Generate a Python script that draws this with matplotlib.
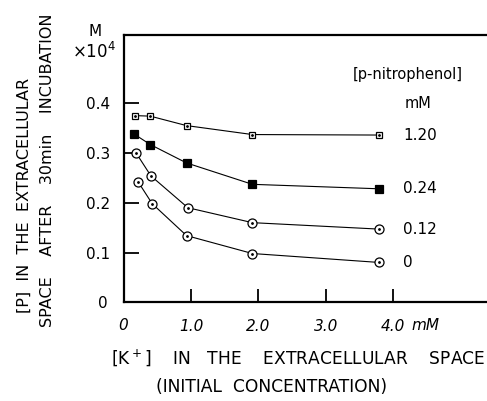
import numpy as np
import matplotlib
matplotlib.use('Agg')
import matplotlib.pyplot as plt

#data
x120 = [0.17, 0.39, 0.93, 1.91, 3.80]
p120 = [0.375, 0.374, 0.355, 0.337, 0.336]
x024 = [0.15, 0.39, 0.93, 1.91, 3.80]
p024 = [0.338, 0.317, 0.280, 0.237, 0.228]
x012 = [0.18, 0.40, 0.95, 1.91, 3.80]
p012 = [0.300, 0.254, 0.190, 0.160, 0.147]
x0 = [0.21, 0.42, 0.93, 1.91, 3.80]
p0 = [0.242, 0.198, 0.134, 0.098, 0.080]
conc = ['1.20', '0.24', '0.12', '0']
xticks = [1, 2, 3, 4]
xticklab = ['1.0', '2.0', '3.0', '4.0']
yticks = [0.1, 0.2, 0.3, 0.4]

W, H = 487, 401
plt.rcParams['font.family'] = 'DejaVu Sans'
fig = plt.figure(figsize=(W/100, H/100), dpi=100)

def fx(px):
    return px/W
def fy(py):
    return 1 - py/H

ax = fig.add_axes([fx(124), fy(302.3), fx(487) - fx(124), fy(35) - fy(302.3)])
ax.set_xlim(0, 5.40)
ax.set_ylim(0, 0.537)
ax.spines['right'].set_visible(False)
for s in ['top', 'left', 'bottom']:
    ax.spines[s].set_linewidth(1.6)

ax.set_xticks(xticks)
ax.set_xticklabels(xticklab, fontstyle='italic', fontsize=11)
ax.set_yticks(yticks)
ax.set_yticklabels(['0.1', '0.2', '0.3', '0.4'], fontsize=11)
ax.tick_params(axis='x', direction='in', length=9.5, width=1.3, pad=12)
ax.tick_params(axis='y', direction='in', length=11, width=1.3, pad=10)

# the curves
series = [(x120, p120, 's', 'white', 5),
          (x024, p024, 's', 'black', 5.5),
          (x012, p012, 'o', 'white', 6.5),
          (x0, p0, 'o', 'white', 6.5)]
for xs, ys, m, fc, ms in series:
    ax.plot(xs, ys, color='black', lw=0.8, marker=m, mfc=fc, mec='black',
            ms=ms, mew=0.9, clip_on=False)
    if fc == 'white':
        ax.plot(xs, ys, ls='none', marker='.', color='black', ms=2, clip_on=False)

for (xs, ys, m, fc, ms), lab in zip(series, conc):
    ax.text(4.15, ys[-1], lab, fontsize=11, ha='left', va='center')

fig.text(fx(408), fy(75), '[p-nitrophenol]', fontsize=10.5, ha='center', va='center')
fig.text(fx(418), fy(103), 'mM', fontsize=10.5, ha='center', va='center')

# zero labels and units
fig.text(fx(108), fy(303), '0', fontsize=11, ha='right', va='center')
fig.text(fx(123), fy(325), '0', fontsize=11, ha='center', va='center', fontstyle='italic')
fig.text(fx(425), fy(325), 'mM', fontsize=11, ha='center', va='center', fontstyle='italic')
fig.text(fx(95), fy(31), 'M', fontsize=11, ha='center', va='center')
fig.text(fx(116), fy(52), r'$\times$10$^4$', fontsize=12, ha='right', va='center')

# axis titles
fig.text(fx(111), fy(358), '[K$^+$]    IN   THE    EXTRACELLULAR    SPACE', fontsize=12.3,
         ha='left', va='center')
fig.text(fx(272), fy(387), '(INITIAL  CONCENTRATION)', fontsize=12.3,
         ha='center', va='center')
fig.text(fx(24), fy(313), '[P]  IN  THE  EXTRACELLULAR', fontsize=11.5,
         rotation=90, rotation_mode='anchor', ha='left', va='center')
fig.text(fx(47), fy(327), 'SPACE    AFTER    30min    INCUBATION', fontsize=11.5,
         rotation=90, rotation_mode='anchor', ha='left', va='center')

fig.savefig('out.png', dpi=100)
